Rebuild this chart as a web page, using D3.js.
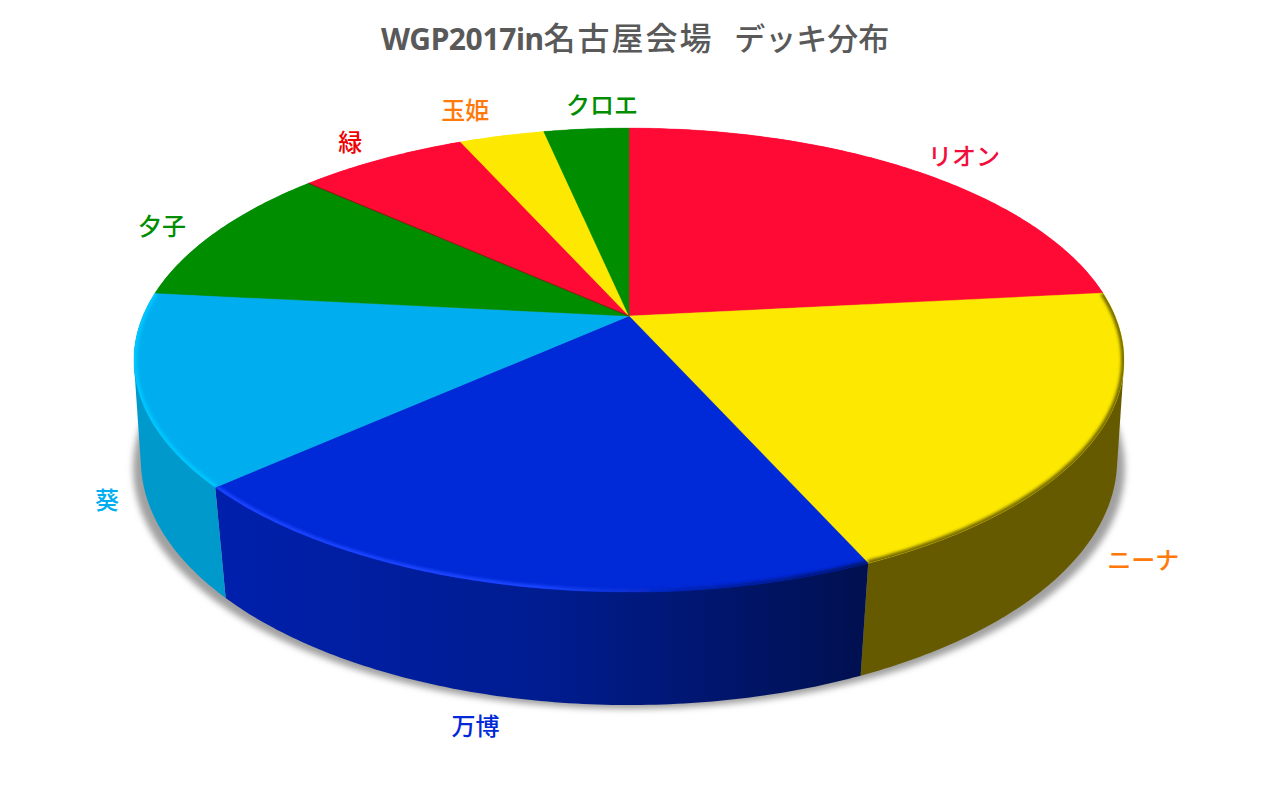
<!DOCTYPE html>
<html>
<head>
<meta charset="utf-8">
<script src="https://cdn.jsdelivr.net/npm/d3@7"></script>
<style>
  html, body { margin: 0; padding: 0; background: #fff; }
  text { font-family: "Noto Sans", "Noto Sans CJK JP", sans-serif; white-space: pre; }
</style>
</head>
<body>
<div id="chart"></div>
<script>
// Deck counts, clockwise from 12 o'clock
var categories = ["リオン", "ニーナ", "万博", "葵", "夕子", "緑", "玉姫", "クロエ"];
var values = [14, 12, 12, 8, 6, 4, 2, 2];
var sliceColors = ["#ff0a35", "#fce800", "#0029d8", "#00aeef", "#008d00", "#ff0a35", "#fce800", "#008d00"];
var labelColors = ["#f20d3c", "#ff7a0a", "#0029d8", "#00aeef", "#008d00", "#f00000", "#ff7a0a", "#008d00"];
var titleParts = ["WGP2017in", "名古屋会場  ", "デッキ分布"];

var svgWidth = 1272;
var svgHeight = 785;

// Perspective of the top and the bottom disc of the pie
var topFace = { cx: 629, cy: 316, a: 486, b: 223.6, k: 0.19 };
var bottomFace = { cx: 629, cy: 418.4, a: 481, b: 237.9, k: 0.17 };

// correction of each label, same order as categories
var labelNudgeX = [10, 7, -21, 18, 0, 4, -18, 22];
var labelNudgeY = [7, -2, 2, -4, 6, 6, 1, 4];

function project(face, angle) {
  var u = Math.sin(angle);
  var v = -Math.cos(angle);
  var w = 1 - face.k * v;
  return [face.cx + (face.a * u) / w, face.cy + (face.b * v) / w];
}

function arcPoints(face, start, end) {
  var n = Math.max(2, Math.ceil((end - start) * 80));
  return d3.range(n + 1).map(function (i) {
    return project(face, start + ((end - start) * i) / n);
  });
}

function labelPos(d, i) {
  var mid = (d.startAngle + d.endAngle) / 2;
  var face = -Math.cos(mid) > 0 ? bottomFace : topFace;
  var p = project(face, mid);
  return [
    p[0] + Math.sin(mid) * 60 + labelNudgeX[i],
    p[1] - Math.cos(mid) * 28 + labelNudgeY[i],
  ];
}

var line = d3.line();

var svg = d3
  .select("#chart")
  .append("svg")
  .attr("width", svgWidth)
  .attr("height", svgHeight)
  .style("display", "block");

var defs = svg.append("defs");

defs
  .append("filter")
  .attr("id", "shadowBlur")
  .attr("x", "-5%")
  .attr("y", "-5%")
  .attr("width", "110%")
  .attr("height", "110%")
  .append("feGaussianBlur")
  .attr("stdDeviation", 3);

defs
  .append("filter")
  .attr("id", "rimBlur")
  .attr("filterUnits", "userSpaceOnUse")
  .attr("x", 0)
  .attr("y", 0)
  .attr("width", svgWidth)
  .attr("height", svgHeight)
  .append("feGaussianBlur")
  .attr("stdDeviation", 1.4);

function addGradient(id, x1, x2, stops) {
  var g = defs
    .append("linearGradient")
    .attr("id", id)
    .attr("gradientUnits", "userSpaceOnUse")
    .attr("x1", x1)
    .attr("x2", x2)
    .attr("y1", 0)
    .attr("y2", 0);
  stops.forEach(function (s) {
    g.append("stop").attr("offset", s[0]).attr("stop-color", s[1]);
  });
}

addGradient("sideBlue", 224, 862, [
  [0, "#0020ac"],
  [0.5, "#001c90"],
  [1, "#001050"],
]);
addGradient("rimBlue", 224, 862, [
  [0, "#1a45ff"],
  [0.5, "#1a45ff"],
  [0.72, "#0022b8"],
  [1, "#001470"],
]);

var sideFills = { ニーナ: "#665a00", 万博: "url(#sideBlue)", 葵: "#0099cc" };
var rimFills = { ニーナ: "#766a00", 万博: "url(#rimBlue)", 葵: "#00c8ff" };

var pie = d3.pie().sort(null);
var slices = pie(values);

// Ground shadow
svg
  .append("ellipse")
  .attr("cx", 629)
  .attr("cy", 468)
  .attr("rx", 496)
  .attr("ry", 241)
  .attr("fill", "#a0a0a0")
  .attr("filter", "url(#shadowBlur)");

// Side walls
svg
  .append("g")
  .selectAll("path")
  .data(slices)
  .enter()
  .append("path")
  .attr("d", function (d) {
    var pts = arcPoints(topFace, d.startAngle, d.endAngle).concat(
      arcPoints(bottomFace, d.startAngle, d.endAngle)
    );
    return line(d3.polygonHull(pts)) + "Z";
  })
  .attr("fill", function (d, i) {
    return sideFills[categories[i]] || sliceColors[i];
  });

function wedgePath(d) {
  var pts = [[topFace.cx, topFace.cy]].concat(
    arcPoints(topFace, d.startAngle, d.endAngle)
  );
  return line(pts) + "Z";
}

// Top face
svg
  .append("g")
  .selectAll("path")
  .data(slices)
  .enter()
  .append("path")
  .attr("d", wedgePath)
  .attr("fill", function (d, i) {
    return sliceColors[i];
  })
  .attr("stroke", function (d, i) {
    return sliceColors[i];
  })
  .attr("stroke-width", 0.4);

// Thin dark seam between 夕子 and 緑
var seam = slices[categories.indexOf("緑")];
svg
  .append("path")
  .attr("d", line([[topFace.cx, topFace.cy], project(topFace, seam.startAngle)]))
  .attr("stroke", "#4d2a00")
  .attr("stroke-opacity", 0.7)
  .attr("stroke-width", 1);

// Bevel along the front rim
slices.forEach(function (d, i) {
  var rim = rimFills[categories[i]];
  if (!rim) return;
  defs
    .append("clipPath")
    .attr("id", "wedge" + i)
    .append("path")
    .attr("d", wedgePath(d));
  svg
    .append("g")
    .attr("clip-path", "url(#wedge" + i + ")")
    .append("path")
    .attr("d", line(arcPoints(topFace, d.startAngle, d.endAngle)))
    .attr("fill", "none")
    .attr("stroke", rim)
    .attr("stroke-width", 6)
    .attr("filter", "url(#rimBlur)");
});

// Labels
svg
  .append("g")
  .selectAll("text")
  .data(slices)
  .enter()
  .append("text")
  .attr("x", function (d, i) {
    return labelPos(d, i)[0];
  })
  .attr("y", function (d, i) {
    return labelPos(d, i)[1];
  })
  .attr("dy", "0.35em")
  .attr("text-anchor", "middle")
  .attr("font-size", 24)
  .attr("font-weight", 500)
  .attr("fill", function (d, i) {
    return labelColors[i];
  })
  .text(function (d, i) {
    return categories[i];
  });

// Title, the latin run is narrower than the kana and kanji
var title = svg
  .append("text")
  .attr("x", 381)
  .attr("y", 50)
  .attr("fill", "#595959");

title
  .append("tspan")
  .attr("font-size", 30)
  .attr("font-weight", 700)
  .attr("letter-spacing", -0.4)
  .text(titleParts[0]);
title
  .append("tspan")
  .attr("font-size", 32)
  .attr("font-weight", 500)
  .attr("letter-spacing", 2)
  .text(titleParts[1]);
title
  .append("tspan")
  .attr("font-size", 31)
  .attr("font-weight", 500)
  .text(titleParts[2]);
</script>
</body>
</html>
